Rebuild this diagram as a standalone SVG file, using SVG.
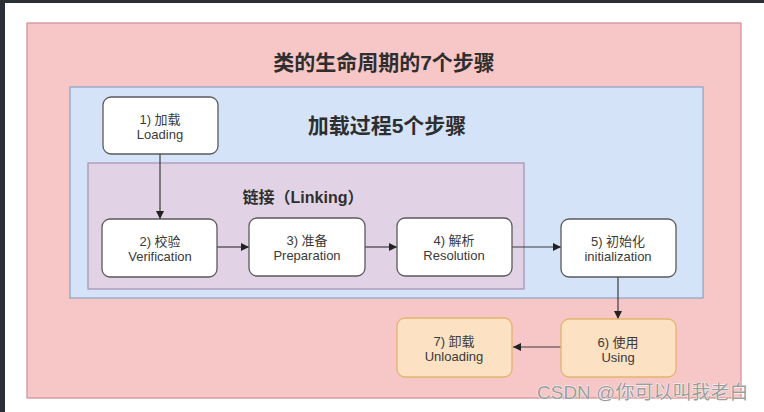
<svg xmlns="http://www.w3.org/2000/svg" width="764" height="412" viewBox="0 0 764 412">
  <defs>
    <style>
      .cjk { font-family: "Liberation Sans", "Noto Sans CJK SC", sans-serif; }
      .node rect { fill: #ffffff; stroke: #5a5a5a; stroke-width: 1.3; }
      .onode rect { fill: #fce1c2; stroke: #e3b46e; stroke-width: 1.3; }
      .nt { font-family: "Liberation Sans", "Noto Sans CJK SC", sans-serif; font-size: 13px; fill: #3a3a3a; text-anchor: middle; }
      .hd { font-family: "Liberation Sans", "Noto Sans CJK SC", sans-serif; font-weight: bold; fill: #2e2e2e; text-anchor: middle; }
      .conn line { stroke: #3c3c3c; stroke-width: 1.2; }
    </style>
    <marker id="arr" viewBox="0 0 10 10" refX="10" refY="5" markerWidth="8" markerHeight="8" markerUnits="userSpaceOnUse" orient="auto">
      <path d="M0,0 L10,5 L0,10 Z" fill="#222"/>
    </marker>
  </defs>

  <!-- screen frame -->
  <rect x="0" y="0" width="764" height="412" fill="#ffffff"/>
  <rect x="0" y="0" width="5" height="412" fill="#2b3036"/>
  <rect x="0" y="0" width="764" height="3" fill="#2b3036"/>

  <!-- containers -->
  <g id="lifecycle">
    <rect x="27" y="23" width="714" height="375" fill="#f7c6c6" stroke="#d4939a" stroke-width="1.3"/>
    <text class="hd" x="384" y="70" font-size="21">类的生命周期的7个步骤</text>
  </g>
  <g id="loading-process">
    <rect x="70" y="87" width="633" height="211" fill="#d5e3f8" stroke="#93a6c2" stroke-width="1.3"/>
    <text class="hd" x="387" y="133" font-size="21">加载过程5个步骤</text>
  </g>
  <g id="linking">
    <rect x="88" y="163" width="436" height="126" fill="#e1d3e5" stroke="#a896b4" stroke-width="1.3"/>
    <text class="hd" x="303" y="203" font-size="16">链接（Linking）</text>
  </g>

  <!-- connectors -->
  <g id="connectors" class="conn">
    <line x1="160" y1="154" x2="160" y2="219" marker-end="url(#arr)"/>
    <line x1="217" y1="247" x2="249" y2="247" marker-end="url(#arr)"/>
    <line x1="365" y1="247" x2="397" y2="247" marker-end="url(#arr)"/>
    <line x1="512" y1="247" x2="561" y2="247" marker-end="url(#arr)"/>
    <line x1="618" y1="277" x2="618" y2="319" marker-end="url(#arr)"/>
    <line x1="561" y1="347" x2="513" y2="347" marker-end="url(#arr)"/>
  </g>

  <!-- nodes -->
  <g id="n1" class="node">
    <rect x="103" y="97" width="115" height="57" rx="8"/>
    <text class="nt" x="160" y="124">1) 加载</text>
    <text class="nt" x="160" y="139">Loading</text>
  </g>
  <g id="n2" class="node">
    <rect x="102" y="219" width="115" height="58" rx="8"/>
    <text class="nt" x="160" y="246">2) 校验</text>
    <text class="nt" x="160" y="261">Verification</text>
  </g>
  <g id="n3" class="node">
    <rect x="249" y="218" width="116" height="58" rx="8"/>
    <text class="nt" x="307" y="245">3) 准备</text>
    <text class="nt" x="307" y="260">Preparation</text>
  </g>
  <g id="n4" class="node">
    <rect x="397" y="218" width="115" height="58" rx="8"/>
    <text class="nt" x="454" y="245">4) 解析</text>
    <text class="nt" x="454" y="260">Resolution</text>
  </g>
  <g id="n5" class="node">
    <rect x="561" y="219" width="115" height="58" rx="8"/>
    <text class="nt" x="618" y="246">5) 初始化</text>
    <text class="nt" x="618" y="261">initialization</text>
  </g>
  <g id="n6" class="onode">
    <rect x="561" y="319" width="115" height="58" rx="8"/>
    <text class="nt" x="618" y="347">6) 使用</text>
    <text class="nt" x="618" y="362">Using</text>
  </g>
  <g id="n7" class="onode">
    <rect x="397" y="318" width="115" height="59" rx="8"/>
    <text class="nt" x="454" y="346">7) 卸载</text>
    <text class="nt" x="454" y="361">Unloading</text>
  </g>

  <!-- watermark -->
  <text x="537" y="399" font-size="19" fill="#9c9c9c" stroke="#ffffff" stroke-width="0.8" paint-order="stroke" font-family="Liberation Sans, Noto Sans CJK SC, sans-serif">CSDN @你可以叫我老白</text>
</svg>
